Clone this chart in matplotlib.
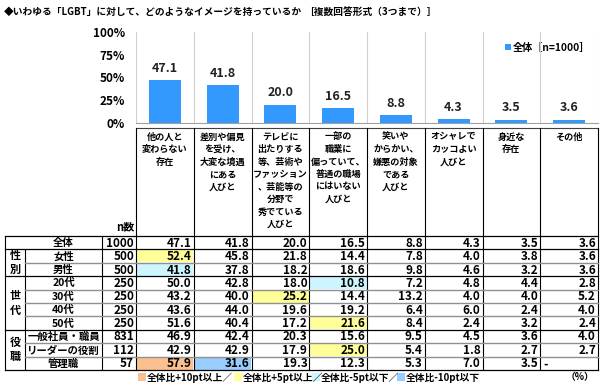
import numpy as np
import matplotlib
matplotlib.use('Agg')
import matplotlib.pyplot as plt
from matplotlib.patches import Rectangle

plt.rcParams['font.family'] = ['Noto Sans CJK JP', 'DejaVu Sans']
plt.rcParams['font.weight'] = 'bold'

# data
categories = ['他の人と\n変わらない\n存在',
              '差別や偏見\nを受け、\n大変な境遇\nにある\n人びと',
              'テレビに\n出たりする\n等、芸術や\nファッション\n、芸能等の\n分野で\n秀でている\n人びと',
              '一部の\n職業に\n偏っていて、\n普通の職場\nにはいない\n人びと',
              '笑いや\nからかい、\n嫌悪の対象\nである\n人びと',
              'オシャレで\nカッコよい\n人びと',
              '身近な\n存在',
              'その他']
overall = [47.1, 41.8, 20.0, 16.5, 8.8, 4.3, 3.5, 3.6]
yticks = [0, 25, 50, 75, 100]

row_labels = ['全体', '女性', '男性', '20代', '30代', '40代', '50代',
              '一般社員・職員', 'リーダーの役割', '管理職']
n_values = [1000, 500, 500, 250, 250, 250, 250, 831, 112, 57]
table_values = [
    [47.1, 41.8, 20.0, 16.5, 8.8, 4.3, 3.5, 3.6],
    [52.4, 45.8, 21.8, 14.4, 7.8, 4.0, 3.8, 3.6],
    [41.8, 37.8, 18.2, 18.6, 9.8, 4.6, 3.2, 3.6],
    [50.0, 42.8, 18.0, 10.8, 7.2, 4.8, 4.4, 2.8],
    [43.2, 40.0, 25.2, 14.4, 13.2, 4.0, 4.0, 5.2],
    [43.6, 44.0, 19.6, 19.2, 6.4, 6.0, 2.4, 4.0],
    [51.6, 40.4, 17.2, 21.6, 8.4, 2.4, 3.2, 2.4],
    [46.9, 42.4, 20.3, 15.6, 9.5, 4.5, 3.6, 4.0],
    [42.9, 42.9, 17.9, 25.0, 5.4, 1.8, 2.7, 2.7],
    [57.9, 31.6, 19.3, 12.3, 5.3, 7.0, 3.5, None],
]
groups = [('性別', 1, 3), ('世代', 3, 7), ('役職', 7, 10)]
legend_labels = ['全体比+10pt以上／', '全体比+5pt以上／', '全体比-5pt以下／', '全体比-10pt以下']

bar_color = '#3399FF'
hl_colors = ['#FAC090', '#FFFF99', '#CCF5FF', '#99CCFF']

# layout in pixels
W, H = 600, 384
col_left, col_w = 136, 57.75
y0, y100 = 123, 32
tab_top, row_h = 236, 13.4
head_top = 128

fig = plt.figure(figsize=(6, 3.84), dpi=100)

# bar chart
ax = fig.add_axes([col_left / W, 1 - y0 / H, 8 * col_w / W, (y0 - y100) / H])
x = np.arange(len(overall))
ax.bar(x, overall, width=0.55, color=bar_color, zorder=3)
for xi, v in zip(x, overall):
    ax.annotate(f'{v:.1f}', (xi, v), xytext=(0, 6), textcoords='offset points',
                ha='center', va='baseline', fontsize=9, color='#222222')
ax.set_xlim(-0.5, 7.5)
ax.set_ylim(0, 100)
ax.set_yticks(yticks)
ax.set_yticklabels([f'{t}%' for t in yticks], fontsize=8.5)
ax.set_xticks([])
for b in np.arange(-0.5, 8, 1):
    ax.axvline(b, color='#D0D0D0', lw=0.8, zorder=1)
for s in ['top', 'right', 'left']:
    ax.spines[s].set_visible(False)
ax.spines['bottom'].set_color('#A0A0A0')
ax.tick_params(axis='y', length=0, pad=8)
ax.set_facecolor('none')

# table drawn in pixel coordinates
tx = fig.add_axes([0, 0, 1, 1], zorder=-1)
tx.set_xlim(0, W)
tx.set_ylim(H, 0)
tx.axis('off')

tx.text(4, 12, '◆いわゆる「LGBT」に対して、どのようなイメージを持っているか',
        fontsize=7.0, va='center', ha='left')
tx.text(304, 12, '［複数回答形式（3つまで）］', fontsize=7.0, va='center', ha='left')

# legend of the bars
tx.add_patch(Rectangle((505, 44), 6, 6, color=bar_color, lw=0))
tx.text(513, 47.5, '全体［n=1000］', fontsize=7.3, va='center', ha='left')

edges = [col_left + i * col_w for i in range(9)]
n_rows = len(row_labels)
tab_bot = tab_top + n_rows * row_h

# header texts
for j, cat in enumerate(categories):
    cx = edges[j] + col_w / 2
    for k, line in enumerate(cat.split('\n')):
        tx.text(cx, 137 + k * 12.5, line, ha='center', va='center', fontsize=6.6)
tx.text(134, 227, 'n数', ha='right', va='center', fontsize=8)

# cell highlights
for i, row in enumerate(table_values):
    top = tab_top + i * row_h
    for j, v in enumerate(row):
        if v is None or i == 0:
            continue
        d = v - overall[j]
        c = None
        if d >= 10:
            c = hl_colors[0]
        elif d >= 5:
            c = hl_colors[1]
        elif d <= -10:
            c = hl_colors[3]
        elif d <= -5:
            c = hl_colors[2]
        if c:
            tx.add_patch(Rectangle((edges[j] + 0.5, top + 0.5), col_w - 1, row_h - 1,
                                   color=c, lw=0))

# numbers and labels
for i, (lab, n, row) in enumerate(zip(row_labels, n_values, table_values)):
    cy = tab_top + (i + 0.5) * row_h + 0.5
    tx.text(63.5, cy, lab, ha='center', va='center', fontsize=7.5)
    tx.text(134, cy, str(n), ha='right', va='center', fontsize=8.5)
    for j, v in enumerate(row):
        if v is None:
            tx.text(edges[j] + 3, cy, '-', ha='left', va='center', fontsize=8.5)
        else:
            tx.text(edges[j + 1] - 2, cy, f'{v:.1f}', ha='right', va='center', fontsize=8.5)

for name, r0, r1 in groups:
    cy = tab_top + (r0 + r1) / 2 * row_h
    tx.text(15, cy - 7, name[0], ha='center', va='center', fontsize=8)
    tx.text(15, cy + 7, name[1], ha='center', va='center', fontsize=8)

# grid lines
tx.plot([edges[0], edges[-1]], [head_top, head_top], color='#404040', lw=0.8)
for e in edges:
    tx.plot([e, e], [head_top, tab_bot], color='black', lw=0.8)
for xe in [5, 102]:
    tx.plot([xe, xe], [tab_top, tab_bot], color='black', lw=0.8)
tx.plot([25, 25], [tab_top + row_h, tab_bot], color='black', lw=0.8)
bounds = {0, 1, 3, 7, 10}
for r in range(n_rows + 1):
    y = tab_top + r * row_h
    if r in bounds:
        tx.plot([5, edges[-1]], [y, y], color='black', lw=0.9)
    else:
        tx.plot([25, edges[-1]], [y, y], color='#909090', lw=1.0)

# footer legend
leg_x = [138, 234, 312, 397]
for xs, c, lab in zip(leg_x, hl_colors, legend_labels):
    tx.add_patch(Rectangle((xs, 373), 8, 8, color=c, lw=0))
    tx.text(xs + 9, 377.5, lab, ha='left', va='center', fontsize=7)
tx.text(594, 377.5, '（%）', ha='right', va='center', fontsize=7)

fig.savefig('out.png', dpi=100)
